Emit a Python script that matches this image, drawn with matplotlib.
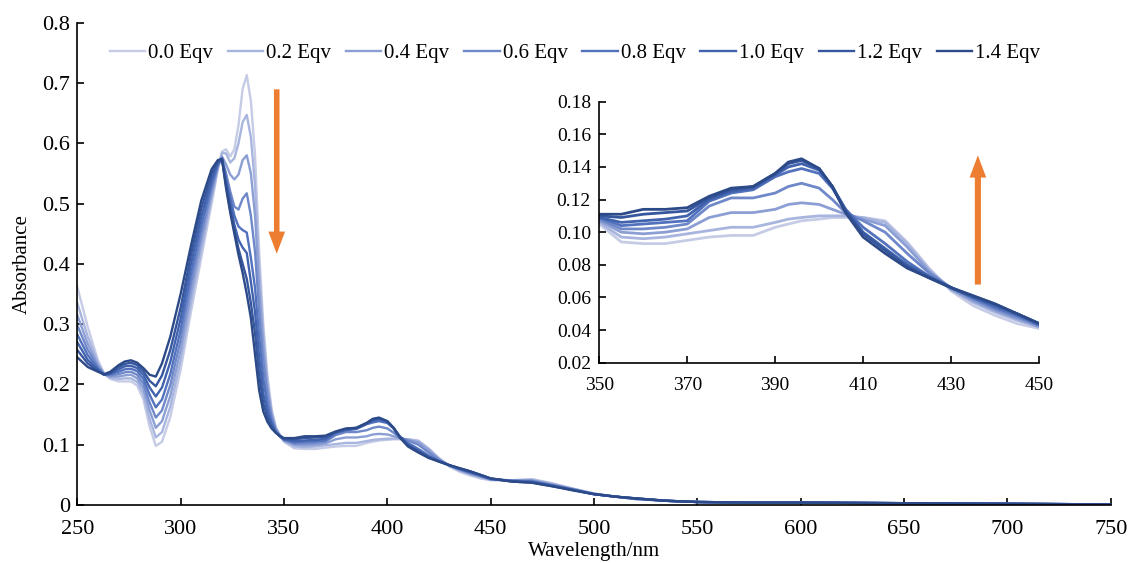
import matplotlib
matplotlib.use('Agg')
import matplotlib.pyplot as plt
from matplotlib.patches import FancyArrowPatch

plt.rcParams['font.family'] = ['Liberation Serif', 'DejaVu Serif']
plt.rcParams['font.size'] = 15

# wavelength grid (nm), shared by all spectra
wl = [250, 255, 260, 263, 266, 270, 273, 276, 279, 282, 285, 288, 291, 295, 300, 305, 310, 315, 318,
      320, 322, 324, 326, 328, 330, 332, 334, 336, 338, 340, 342, 344, 346, 348, 350,
      355, 360, 365, 370, 375, 380, 385, 390, 393, 396, 400, 403, 406, 410, 415, 420, 425, 430,
      435, 440, 445, 450, 460, 470, 480, 490, 500, 510, 520, 535, 550, 575, 600, 650, 700, 750]

eqv_00 = [0.362, 0.296, 0.240, 0.218, 0.209, 0.205, 0.205, 0.205, 0.198, 0.175, 0.130, 0.098, 0.105, 0.146, 0.224, 0.320, 0.410, 0.500, 0.555,
          0.586, 0.590, 0.578, 0.590, 0.630, 0.690, 0.713, 0.670, 0.580, 0.420, 0.300, 0.215, 0.160, 0.130, 0.117, 0.105,
          0.094, 0.093, 0.093, 0.095, 0.097, 0.098, 0.098, 0.103, 0.105, 0.107, 0.108, 0.109, 0.109, 0.109, 0.107, 0.094, 0.078, 0.064,
          0.055, 0.049, 0.044, 0.041, 0.041, 0.043, 0.036, 0.027, 0.019, 0.014, 0.010, 0.007, 0.005, 0.004, 0.004, 0.003, 0.002, 0.001]
eqv_02 = [0.335, 0.280, 0.236, 0.217, 0.211, 0.209, 0.210, 0.210, 0.204, 0.184, 0.143, 0.112, 0.121, 0.163, 0.240, 0.335, 0.423, 0.508, 0.558,
          0.584, 0.583, 0.568, 0.575, 0.600, 0.635, 0.647, 0.610, 0.530, 0.390, 0.285, 0.205, 0.155, 0.128, 0.116, 0.106,
          0.097, 0.096, 0.097, 0.099, 0.101, 0.103, 0.103, 0.106, 0.108, 0.109, 0.110, 0.110, 0.110, 0.109, 0.106, 0.093, 0.077, 0.065,
          0.057, 0.051, 0.046, 0.042, 0.041, 0.042, 0.035, 0.027, 0.019, 0.014, 0.010, 0.007, 0.005, 0.004, 0.004, 0.003, 0.002, 0.001]
eqv_04 = [0.315, 0.268, 0.232, 0.217, 0.213, 0.213, 0.215, 0.216, 0.210, 0.193, 0.157, 0.128, 0.139, 0.181, 0.257, 0.351, 0.437, 0.516, 0.561,
          0.578, 0.565, 0.548, 0.540, 0.548, 0.572, 0.580, 0.550, 0.480, 0.360, 0.265, 0.195, 0.150, 0.126, 0.115, 0.107,
          0.100, 0.099, 0.100, 0.102, 0.109, 0.112, 0.112, 0.114, 0.117, 0.118, 0.117, 0.114, 0.111, 0.108, 0.104, 0.091, 0.076, 0.065,
          0.058, 0.052, 0.047, 0.042, 0.041, 0.041, 0.034, 0.026, 0.019, 0.014, 0.010, 0.007, 0.005, 0.004, 0.004, 0.003, 0.002, 0.001]
eqv_06 = [0.298, 0.258, 0.229, 0.216, 0.215, 0.217, 0.220, 0.221, 0.216, 0.201, 0.170, 0.145, 0.157, 0.199, 0.274, 0.367, 0.450, 0.524, 0.563,
          0.575, 0.550, 0.520, 0.495, 0.490, 0.508, 0.517, 0.480, 0.420, 0.320, 0.240, 0.180, 0.145, 0.124, 0.114, 0.108,
          0.102, 0.102, 0.103, 0.105, 0.116, 0.121, 0.121, 0.124, 0.128, 0.130, 0.127, 0.120, 0.112, 0.107, 0.100, 0.087, 0.075, 0.066,
          0.059, 0.053, 0.048, 0.043, 0.040, 0.040, 0.033, 0.026, 0.018, 0.014, 0.010, 0.007, 0.005, 0.004, 0.004, 0.003, 0.002, 0.001]
eqv_08 = [0.283, 0.249, 0.226, 0.216, 0.217, 0.221, 0.225, 0.226, 0.222, 0.209, 0.183, 0.162, 0.175, 0.217, 0.291, 0.383, 0.464, 0.532, 0.565,
          0.575, 0.540, 0.510, 0.480, 0.462, 0.456, 0.452, 0.410, 0.360, 0.280, 0.210, 0.165, 0.139, 0.122, 0.114, 0.109,
          0.104, 0.105, 0.106, 0.107, 0.119, 0.124, 0.126, 0.134, 0.137, 0.139, 0.136, 0.127, 0.114, 0.103, 0.093, 0.082, 0.073, 0.066,
          0.060, 0.054, 0.049, 0.043, 0.040, 0.039, 0.032, 0.025, 0.018, 0.014, 0.011, 0.007, 0.005, 0.004, 0.004, 0.003, 0.002, 0.001]
eqv_10 = [0.270, 0.241, 0.224, 0.216, 0.218, 0.225, 0.230, 0.231, 0.227, 0.216, 0.195, 0.180, 0.195, 0.237, 0.309, 0.399, 0.478, 0.540, 0.567,
          0.574, 0.535, 0.500, 0.465, 0.440, 0.427, 0.418, 0.370, 0.320, 0.245, 0.185, 0.153, 0.134, 0.121, 0.114, 0.109,
          0.106, 0.107, 0.108, 0.110, 0.120, 0.125, 0.127, 0.135, 0.140, 0.142, 0.138, 0.128, 0.114, 0.100, 0.090, 0.080, 0.073, 0.066,
          0.060, 0.055, 0.050, 0.044, 0.040, 0.038, 0.032, 0.025, 0.018, 0.014, 0.011, 0.007, 0.005, 0.004, 0.004, 0.003, 0.002, 0.001]
eqv_12 = [0.257, 0.235, 0.222, 0.216, 0.219, 0.229, 0.234, 0.236, 0.232, 0.222, 0.206, 0.197, 0.215, 0.257, 0.327, 0.415, 0.492, 0.549, 0.570,
          0.574, 0.530, 0.490, 0.455, 0.425, 0.400, 0.375, 0.335, 0.285, 0.215, 0.168, 0.145, 0.130, 0.120, 0.114, 0.110,
          0.109, 0.111, 0.112, 0.113, 0.121, 0.126, 0.128, 0.136, 0.142, 0.144, 0.139, 0.128, 0.113, 0.099, 0.089, 0.079, 0.072, 0.066,
          0.061, 0.056, 0.050, 0.044, 0.039, 0.037, 0.031, 0.025, 0.018, 0.014, 0.011, 0.007, 0.005, 0.004, 0.004, 0.003, 0.002, 0.001]
eqv_14 = [0.245, 0.229, 0.221, 0.217, 0.221, 0.232, 0.238, 0.240, 0.236, 0.227, 0.216, 0.213, 0.235, 0.279, 0.350, 0.430, 0.505, 0.557, 0.572,
          0.574, 0.525, 0.485, 0.450, 0.415, 0.385, 0.350, 0.310, 0.250, 0.190, 0.155, 0.138, 0.127, 0.120, 0.115, 0.111,
          0.111, 0.114, 0.114, 0.115, 0.122, 0.127, 0.128, 0.136, 0.143, 0.145, 0.139, 0.128, 0.112, 0.097, 0.087, 0.078, 0.072, 0.066,
          0.061, 0.056, 0.050, 0.044, 0.039, 0.037, 0.031, 0.024, 0.018, 0.014, 0.011, 0.007, 0.005, 0.004, 0.004, 0.003, 0.002, 0.001]

spectra = [eqv_00, eqv_02, eqv_04, eqv_06, eqv_08, eqv_10, eqv_12, eqv_14]
labels = ['0.0 Eqv', '0.2 Eqv', '0.4 Eqv', '0.6 Eqv', '0.8 Eqv', '1.0 Eqv', '1.2 Eqv', '1.4 Eqv']
colors = ['#c6cce6', '#a8b5de', '#8c9fd4', '#6f88c9', '#5272bd', '#4163ae', '#36569e', '#2c4a88']
orange = '#ed7d31'

fig = plt.figure(figsize=(11.28, 5.63), dpi=100)
ax = fig.add_axes([0.0685, 0.103, 0.9162, 0.8568])
for y, c, lab in zip(spectra, colors, labels):
    ax.plot(wl, y, color=c, lw=1.7, label=lab, solid_joinstyle='round')

ax.set_xlim(250, 750)
ax.set_ylim(0, 0.8)
ax.set_xticks(range(250, 751, 50))
ax.set_yticks([0, 0.1, 0.2, 0.3, 0.4, 0.5, 0.6, 0.7, 0.8])
ax.set_yticklabels(['0', '0.1', '0.2', '0.3', '0.4', '0.5', '0.6', '0.7', '0.8'])
ax.spines['top'].set_visible(False)
ax.spines['right'].set_visible(False)
for s in ['left', 'bottom']:
    ax.spines[s].set_linewidth(1.2)
ax.tick_params(direction='in', length=5, width=1.2, labelsize=16)
ax.tick_params(axis='x', pad=11)
ax.tick_params(axis='y', pad=5)
ax.set_xlabel('Wavelength/nm', fontsize=15, labelpad=2)
ax.set_ylabel('Absorbance', fontsize=15, labelpad=8)

arr = FancyArrowPatch((346.5, 0.694), (346.5, 0.412), arrowstyle='simple,head_length=0.8,head_width=0.6,tail_width=0.2',
                      mutation_scale=20, color=orange, lw=0)
ax.add_patch(arr)

fig.legend(loc='center', bbox_to_anchor=(575 / 1128, 1 - 53 / 563), ncol=8, frameon=False, fontsize=15,
           handlelength=1.7, handletextpad=0.15, columnspacing=0.7)

# inset 350-450 nm
ins = fig.add_axes([0.5313, 0.3558, 0.3898, 0.4636])
for y, c in zip(spectra, colors):
    ins.plot(wl, y, color=c, lw=2.0, solid_joinstyle='round')
ins.set_xlim(350, 450)
ins.set_ylim(0.02, 0.18)
ins.set_xticks(range(350, 451, 20))
ins.set_yticks([0.02, 0.04, 0.06, 0.08, 0.10, 0.12, 0.14, 0.16, 0.18])
ins.set_yticklabels(['0.02', '0.04', '0.06', '0.08', '0.10', '0.12', '0.14', '0.16', '0.18'])
ins.spines['top'].set_visible(False)
ins.spines['right'].set_visible(False)
for s in ['left', 'bottom']:
    ins.spines[s].set_linewidth(1.2)
ins.tick_params(direction='in', length=5, width=1.2, labelsize=14)
ins.tick_params(axis='x', pad=10)
ins.tick_params(axis='y', pad=6)

arr2 = FancyArrowPatch((436.1, 0.0662), (436.1, 0.1488), arrowstyle='simple,head_length=0.8,head_width=0.6,tail_width=0.22',
                       mutation_scale=20, color=orange, lw=0)
ins.add_patch(arr2)

fig.savefig('out.png', dpi=100)
